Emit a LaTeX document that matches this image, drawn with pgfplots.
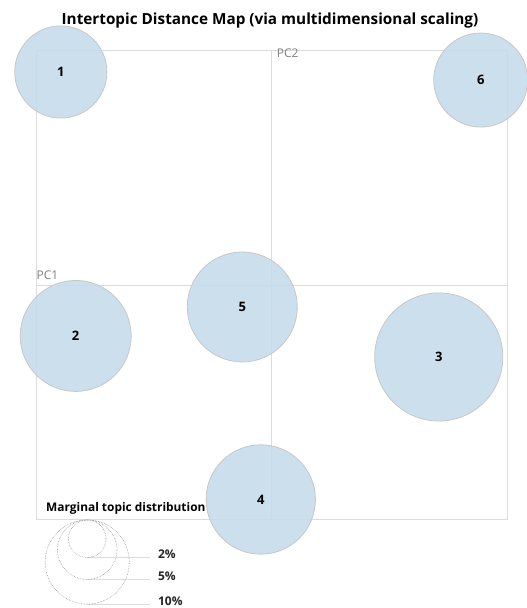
\documentclass[border=0pt]{standalone}
\usepackage{pgfplots}
\pgfplotsset{compat=1.18}
\usepackage{pgfplotstable}
\usepackage{fontspec}
\setmainfont{Open Sans}

\definecolor{topicblue}{HTML}{1F77B4}
\definecolor{framegray}{HTML}{DCDCDC}
\definecolor{pcgray}{HTML}{7F7F7F}

% topic centres on the first two principal coordinates, and marginal share (%)
\pgfplotstableread{
topic x       y       pct
1     -0.2690  0.2725 12.0
2     -0.2500 -0.0652 17.4
3      0.2130 -0.0921 23.2
4     -0.0140 -0.2744 16.9
5     -0.0376 -0.0281 17.1
6      0.2665  0.2622 12.5
}\topics

% reference sizes for the legend (%)
\pgfplotstableread{
x       pct
-0.2353 2
-0.2353 5
-0.2353 10
}\legendsizes

% circle radius (pt) = \rscale * sqrt(share in %)
\def\rscale{13.3}
% pt per data unit on the y axis
\def\ppu{781.67}

\begin{document}
\begin{tikzpicture}[x=1pt,y=1pt]
\path[use as bounding box] (0,0) rectangle (527,608);

\begin{axis}[
  at={(36.5pt,88.5pt)}, anchor=south west,
  width=470.5pt, height=469pt, scale only axis,
  xmin=-0.3, xmax=0.3, ymin=-0.3, ymax=0.3,
  hide axis, clip=false,
  /pgf/number format/assume math mode=true,
]
% frame and the two principal axes
\draw[framegray, line width=0.8pt] (rel axis cs:0,0) rectangle (rel axis cs:1,1);
\draw[framegray, line width=0.8pt] (axis cs:0,-0.3) -- (axis cs:0,0.3);
\draw[framegray, line width=0.8pt] (axis cs:-0.3,0) -- (axis cs:0.3,0);
\node[anchor=base west, inner sep=0pt, text=pcgray, font=\fontsize{12}{12}\selectfont]
  at (axis cs:0,0.3) [xshift=5pt, yshift=-7.5pt] {PC2};
\node[anchor=base west, inner sep=0pt, text=pcgray, font=\fontsize{12}{12}\selectfont]
  at (axis cs:-0.3,0) [yshift=5pt] {PC1};

% topic circles, area proportional to the marginal share
\addplot[
  scatter, only marks, mark=*,
  point meta=explicit,
  scatter/use mapped color={draw=black!22, fill=topicblue!26},
  visualization depends on={\rscale*sqrt(\thisrow{pct}) \as \rad},
  scatter/@pre marker code/.append style={/tikz/mark size=\rad pt},
  mark options={fill opacity=0.9, line width=0.8pt},
] table[x=x, y=y, meta=pct] {\topics};

% topic numbers
\addplot[
  only marks, mark=none,
  point meta=explicit,
  nodes near coords={\pgfmathprintnumber[assume math mode=true]{\pgfplotspointmeta}},
  nodes near coords align={center},
  every node near coord/.append style={
    anchor=center, text=black,
    font=\bfseries\fontsize{13}{13}\selectfont},
] table[x=x, y=y, meta=topic] {\topics};

% legend: marginal topic distribution
\addplot[
  scatter, only marks, mark=o,
  point meta=explicit,
  scatter/use mapped color={draw=gray!80},
  visualization depends on={\rscale*sqrt(\thisrow{pct}) \as \rad},
  scatter/@pre marker code/.append style={/tikz/mark size=\rad pt},
  mark options={densely dotted, line width=0.6pt},
] table[x=x, y expr={-0.3006-\rscale*sqrt(\thisrow{pct})/\ppu}, meta=pct] {\legendsizes};

\pgfplotsinvokeforeach{2,5,10}{
  \addplot[framegray, line width=0.8pt]
    table[row sep=\\, x=x, y expr={-0.3006-2*\rscale*sqrt(#1)/\ppu}] {x\\ -0.2353\\ -0.1556\\}
    node[pos=1, anchor=west, inner sep=0pt, xshift=8pt, yshift=3pt, text=black!85,
         font=\bfseries\fontsize{12}{12}\selectfont] {#1\%};
}
\end{axis}

\node[font=\bfseries\fontsize{15.3}{15.3}\selectfont] at (270,587.5) {Intertopic Distance Map (via multidimensional scaling)};
\node[anchor=west, inner sep=0pt, font=\bfseries\fontsize{11.9}{11.9}\selectfont] at (46,100) {Marginal topic distribution};
\end{tikzpicture}
\end{document}
